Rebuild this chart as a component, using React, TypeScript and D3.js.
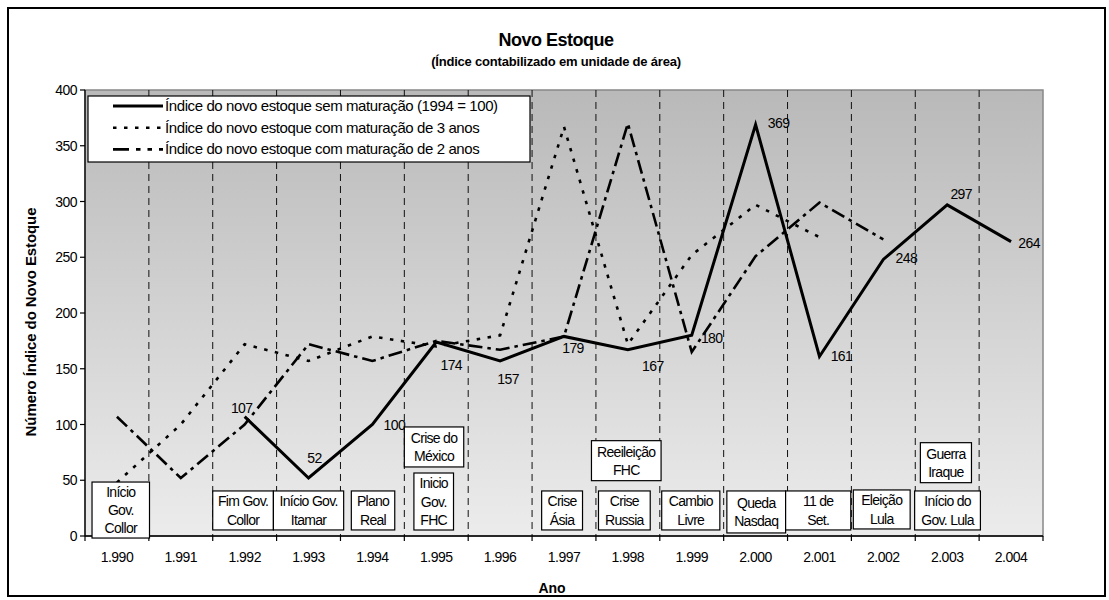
import React from 'react';
import * as d3 from 'd3';

// ---------- data ----------
const years = [1990, 1991, 1992, 1993, 1994, 1995, 1996, 1997, 1998, 1999, 2000, 2001, 2002, 2003, 2004];
const yearLabels = ['1.990', '1.991', '1.992', '1.993', '1.994', '1.995', '1.996', '1.997', '1.998', '1.999', '2.000', '2.001', '2.002', '2.003', '2.004'];
const semMaturacao: (number | null)[] = [null, null, 107, 52, 100, 174, 157, 179, 167, 180, 369, 161, 248, 297, 264];
const maturacao3: (number | null)[] = [48, 100, 172, 157, 179, 170, 180, 367, 172, 252, 297, 268, null, null, null];
const maturacao2: (number | null)[] = [107, 52, 100, 172, 157, 175, 167, 179, 370, 165, 251, 299, 266, null, null];
const yTicks = [0, 50, 100, 150, 200, 250, 300, 350, 400];
const legendLabels = [
  'Índice do novo estoque sem maturação (1994 = 100)',
  'Índice do novo estoque com maturação de 3 anos',
  'Índice do novo estoque com maturação de 2 anos',
];
const annotationTexts: string[][] = [
  ['Início', 'Gov.', 'Collor'],
  ['Fim Gov.', 'Collor'],
  ['Início Gov.', 'Itamar'],
  ['Plano', 'Real'],
  ['Crise do', 'México'],
  ['Inicio', 'Gov.', 'FHC'],
  ['Crise', 'Ásia'],
  ['Reeileição', 'FHC'],
  ['Crise', 'Russia'],
  ['Cambio', 'Livre'],
  ['Queda', 'Nasdaq'],
  ['11 de', 'Set.'],
  ['Eleição', 'Lula'],
  ['Início do', 'Gov. Lula'],
  ['Guerra', 'Iraque'],
];

// ---------- layout (not data) ----------
// annotation box extents in continuous-year units and top in value units
const annotationLayout = [
  { x0: 1990.11, x1: 1991.01, top: 48.4, h: 56 },
  { x0: 1992.0, x1: 1992.95, top: 40.4, h: 39 },
  { x0: 1992.95, x1: 1994.05, top: 40.4, h: 39 },
  { x0: 1994.17, x1: 1994.85, top: 40.4, h: 39 },
  { x0: 1995.0, x1: 1995.93, top: 97.8, h: 40 },
  { x0: 1995.15, x1: 1995.77, top: 56.5, h: 57 },
  { x0: 1997.15, x1: 1997.79, top: 40.4, h: 39 },
  { x0: 1997.93, x1: 1999.02, top: 85.5, h: 40 },
  { x0: 1998.04, x1: 1998.85, top: 40.4, h: 39 },
  { x0: 1999.03, x1: 1999.94, top: 40.4, h: 39 },
  { x0: 2000.05, x1: 2000.97, top: 40.4, h: 42 },
  { x0: 2000.97, x1: 2001.99, top: 40.4, h: 39 },
  { x0: 2002.03, x1: 2002.92, top: 41.3, h: 39 },
  { x0: 2002.99, x1: 2004.02, top: 40.4, h: 39 },
  { x0: 2003.08, x1: 2003.88, top: 83.7, h: 40 },
];
const labelOffsets: ([number, number] | null)[] = [
  null, null, [-3, -9], [6, -20], [22, 0], [15, 23], [8, 18], [9, 12], [25, 16], [20, 3], [23, -2], [22, 0], [23, -1], [14, -11], [18, 1],
];

const W = 1109;
const H = 600;
const L = 85, R = 1043, T = 90, B = 536;
const FONT = '"Liberation Sans", Arial, sans-serif';

export default function App() {
  const x = d3.scaleBand<number>().domain(years).range([L, R]).padding(0);
  const bw = x.bandwidth();
  const cx = (yr: number) => (x(yr) as number) + bw / 2;
  const xc = d3.scaleLinear().domain([1990, 2005]).range([L, R]);
  const y = d3.scaleLinear().domain([0, 400]).range([B, T]);

  const mkLine = (vals: (number | null)[]) =>
    d3
      .line<number>()
      .defined((_, i) => vals[i] != null)
      .x((_, i) => cx(years[i]))
      .y((_, i) => y(vals[i] as number))(vals.map((v) => v ?? 0)) || '';

  const solidStyle = { stroke: '#000', strokeWidth: 3, fill: 'none' };
  const dot3Style = { stroke: '#000', strokeWidth: 2.6, fill: 'none', strokeDasharray: '3.5,7.5' };
  const dash2Style = { stroke: '#000', strokeWidth: 2.6, fill: 'none', strokeDasharray: '14,5,3.5,5' };
  const legendStyles = [solidStyle, dot3Style, { ...dash2Style, strokeDasharray: '16,7,4.5,7,4.5,7' }];

  const boundaries = years.slice(1).map((yr) => x(yr) as number);

  return (
    <svg width={W} height={H} style={{ position: 'absolute', left: 0, top: 0, fontFamily: FONT }}>
      <defs>
        <linearGradient id="bg" x1="0" y1="0" x2="0" y2="1">
          <stop offset="0" stopColor="#b9b9b9" />
          <stop offset="1" stopColor="#ececec" />
        </linearGradient>
      </defs>
      <rect x={0} y={0} width={W} height={H} fill="#fff" />
      <rect x={8} y={8} width={1097} height={588} fill="#fff" stroke="#000" strokeWidth={2} />

      {/* titles */}
      <text x={556} y={46} textAnchor="middle" fontSize={18} fontWeight="bold" letterSpacing={-0.5}>
        Novo Estoque
      </text>
      <text x={556} y={66} textAnchor="middle" fontSize={13} fontWeight="bold" letterSpacing={-0.2}>
        (Índice contabilizado em unidade de área)
      </text>

      {/* plot area */}
      <rect x={L} y={T} width={R - L} height={B - T} fill="url(#bg)" stroke="#888" strokeWidth={1.5} />

      {/* vertical dashed separators */}
      {boundaries.map((bx, i) => (
        <line key={i} x1={bx} x2={bx} y1={T} y2={B} stroke="#111" strokeWidth={1} strokeDasharray="7,5" />
      ))}

      {/* axes */}
      <line x1={L} x2={L} y1={T} y2={B} stroke="#000" strokeWidth={1.3} />
      <line x1={L} x2={R} y1={B} y2={B} stroke="#000" strokeWidth={1.3} />
      {yTicks.map((t) => (
        <g key={t}>
          <line x1={L - 5} x2={L} y1={y(t)} y2={y(t)} stroke="#000" strokeWidth={1.2} />
          <text x={L - 8} y={y(t) + 5} textAnchor="end" fontSize={14} letterSpacing={-0.5}>
            {t}
          </text>
        </g>
      ))}
      {[L, ...boundaries, R].map((bx, i) => (
        <line key={i} x1={bx} x2={bx} y1={B} y2={B + 5} stroke="#000" strokeWidth={1.2} />
      ))}
      {years.map((yr, i) => (
        <text key={yr} x={cx(yr)} y={562} textAnchor="middle" fontSize={14} letterSpacing={-0.5}>
          {yearLabels[i]}
        </text>
      ))}
      <text x={552} y={593} textAnchor="middle" fontSize={14} fontWeight="bold">
        Ano
      </text>
      <text
        transform={`translate(36,${(T + B) / 2 + 9}) rotate(-90)`}
        textAnchor="middle"
        fontSize={15}
        fontWeight="bold"
        letterSpacing={-0.1}
      >
        Número Índice do Novo Estoque
      </text>

      {/* series */}
      <path d={mkLine(maturacao3)} {...dot3Style} />
      <path d={mkLine(maturacao2)} {...dash2Style} />
      <path d={mkLine(semMaturacao)} {...solidStyle} strokeLinejoin="miter" />

      {/* data labels */}
      {semMaturacao.map((v, i) => {
        const off = labelOffsets[i];
        if (v == null || !off) return null;
        return (
          <text key={i} x={cx(years[i]) + off[0]} y={y(v) + off[1] + 5} textAnchor="middle" fontSize={14} letterSpacing={-0.6}>
            {v}
          </text>
        );
      })}

      {/* annotations */}
      {annotationTexts.map((lines, i) => {
        const a = annotationLayout[i];
        const bx0 = xc(a.x0);
        const bx1 = xc(a.x1);
        const top = y(a.top);
        const lh = 18.3;
        const first = top + (a.h - lines.length * lh) / 2 + lh / 2;
        return (
          <g key={i}>
            <rect x={bx0} y={top} width={bx1 - bx0} height={a.h} fill="#fff" stroke="#000" strokeWidth={1.2} />
            {lines.map((ln, j) => (
              <text key={j} x={(bx0 + bx1) / 2} y={first + j * lh + 5} textAnchor="middle" fontSize={14} letterSpacing={-0.7}>
                {ln}
              </text>
            ))}
          </g>
        );
      })}

      {/* legend */}
      <rect x={88} y={96} width={442} height={66} fill="#fff" stroke="#000" strokeWidth={1.2} />
      {legendLabels.map((lbl, i) => (
        <g key={i}>
          <line x1={113} x2={163} y1={106 + i * 21.7} y2={106 + i * 21.7} {...legendStyles[i]} />
          <text x={165} y={106 + i * 21.7 + 5} fontSize={15} letterSpacing={-0.4}>
            {lbl}
          </text>
        </g>
      ))}
    </svg>
  );
}
